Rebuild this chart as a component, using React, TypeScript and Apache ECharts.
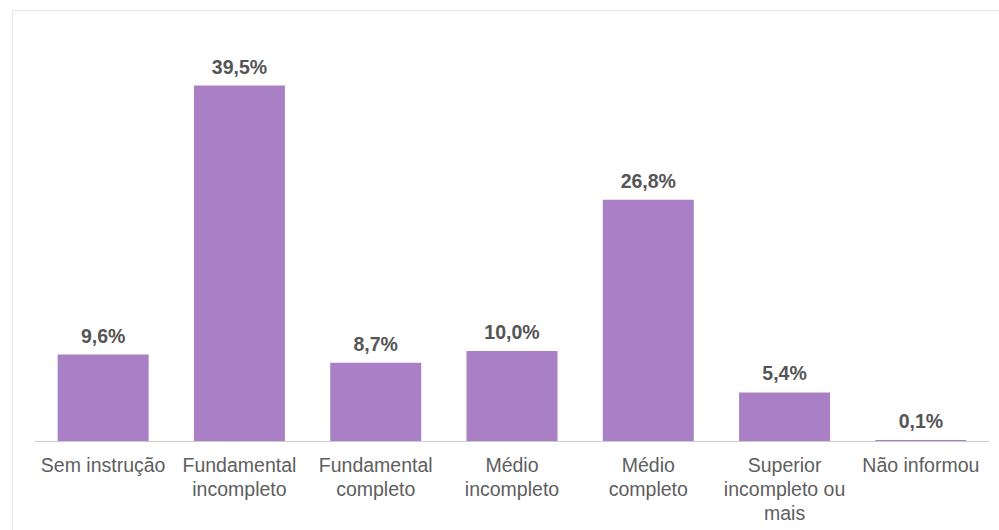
import React, { useEffect, useRef } from "react";
import * as echarts from "echarts";

const categories = [
  "Sem instrução",
  "Fundamental\nincompleto",
  "Fundamental\ncompleto",
  "Médio\nincompleto",
  "Médio\ncompleto",
  "Superior\nincompleto ou\nmais",
  "Não informou",
];
const values = [9.6, 39.5, 8.7, 10.0, 26.8, 5.4, 0.1];

export default function App() {
  const ref = useRef<HTMLDivElement>(null);
  useEffect(() => {
    const chart = echarts.init(ref.current!, null, { renderer: "svg" });
    chart.setOption({
      animation: false,
      backgroundColor: "#ffffff",
      graphic: [
        {
          type: "rect",
          shape: { x: 12.5, y: 10.5, width: 1000, height: 600 },
          style: { fill: "none", stroke: "#e6e6e6", lineWidth: 1 },
          silent: true,
        },
      ],
      grid: { left: 35, right: 10, top: 36, bottom: 89, containLabel: false },
      xAxis: {
        type: "category",
        data: categories,
        axisLine: { lineStyle: { color: "#cccccc", width: 1 } },
        axisTick: { show: false },
        axisLabel: {
          interval: 0,
          color: "#5e5e5e",
          fontFamily: "Liberation Sans, Arial, sans-serif",
          fontSize: 19.5,
          lineHeight: 24,
          margin: 12,
        },
      },
      yAxis: {
        type: "value",
        min: 0,
        max: 45,
        show: false,
        splitLine: { show: false },
      },
      series: [
        {
          type: "bar",
          data: values,
          barWidth: 91,
          itemStyle: { color: "#a97fc5" },
          label: {
            show: true,
            position: "top",
            distance: 9,
            color: "#555555",
            fontWeight: "bold",
            fontSize: 19.5,
            fontFamily: "Liberation Sans, Arial, sans-serif",
            formatter: (p: any) => Number(p.value).toFixed(1).replace(".", ",") + "%",
          },
        },
      ],
    });
    return () => chart.dispose();
  }, []);
  return (
    <div
      ref={ref}
      style={{ position: "absolute", left: 0, top: 0, width: 999, height: 530 }}
    />
  );
}
